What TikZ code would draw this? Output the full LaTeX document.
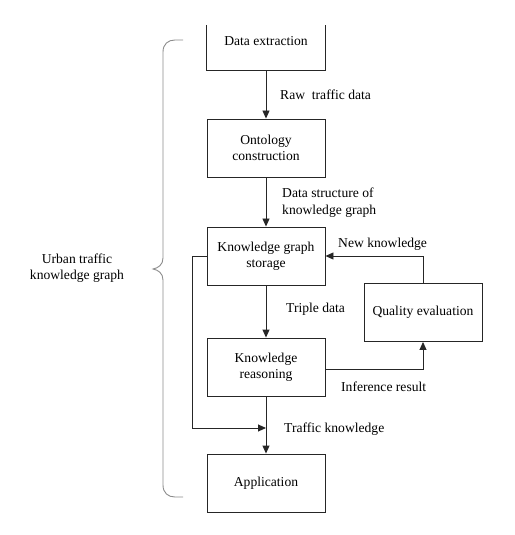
\documentclass[tikz,border=0pt]{standalone}
\usepackage{fontspec}
\setmainfont{Liberation Serif}
\usetikzlibrary{arrows.meta}
\begin{document}
\begin{tikzpicture}[x=1bp,y=-1bp,
  every node/.style={font=\fontsize{13.6bp}{16.5bp}\selectfont, inner sep=0pt},
  stepbox/.style={draw=black!85, line width=0.9bp, minimum width=118bp, minimum height=58bp, align=center},
  lbl/.style={anchor=west, align=left},
  conn/.style={draw=black!85, line width=0.9bp},
  arr/.style={conn, -{Triangle[length=8bp,width=7bp]}},
  brace/.style={draw=black!45, line width=0.9bp}
]
\useasboundingbox (0,0) rectangle (515,535);
% boxes
\node[minimum width=118bp, minimum height=58bp, align=center] (ext) at (266,41) {Data extraction};
\draw[conn] (ext.south west |- 0,25) -- (ext.south west) -- (ext.south east) -- (ext.south east |- 0,25);
\node[stepbox] (ont) at (266,148) {Ontology\\construction};
\node[stepbox] (sto) at (266,256) {Knowledge graph\\storage};
\node[stepbox] (rea) at (266,367) {Knowledge\\reasoning};
\node[stepbox] (qua) at (423,312.5) {Quality evaluation};
\node[stepbox] (app) at (266,483) {Application};
\coordinate (j) at (266,428);
\coordinate (lc) at (192,256);
\coordinate (rc) at (423,369);
% connectors
\draw[arr] (ext.south) -- (ont.north);
\draw[arr] (ont.south) -- (sto.north);
\draw[arr] (sto.south) -- (rea.north);
\draw[arr] (rea.east |- rc) -- (rc) -- (qua.south);
\draw[arr] (qua.north) |- (sto.east);
\draw[arr] (sto.west) -- (lc) |- (j);
\draw[arr] (rea.south) -- (app.north);
% labels
\node[lbl] (l1) at (280,95) {Raw\ \ traffic data};
\node[lbl] (l2) at (282,202.5) {Data structure of\\knowledge graph};
\node[lbl] (l3) at (338,244) {New knowledge};
\node[lbl] (l4) at (286,309) {Triple data};
\node[lbl] (l5) at (341,387) {Inference result};
\node[lbl] (l6) at (284,429) {Traffic knowledge};
\node[align=center] (ut) at (77,268) {Urban traffic\\knowledge graph};
% brace
\draw[brace] (183,40) -- (175,40) .. controls (168,40) and (163,44) .. (163,52) -- (163,258)
  .. controls (163,265) and (158,268) .. (153,269)
  .. controls (158,270) and (163,273) .. (163,280)
  -- (163,485) .. controls (163,493) and (168,497) .. (175,497) -- (183,497);
\end{tikzpicture}
\end{document}
